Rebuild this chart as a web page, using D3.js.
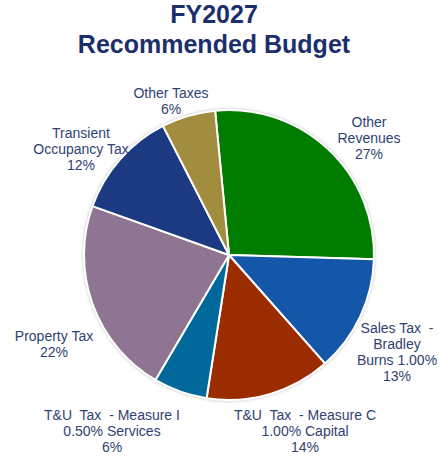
<!DOCTYPE html>
<html>
<head>
<meta charset="utf-8">
<script src="https://cdn.jsdelivr.net/npm/d3@7/dist/d3.min.js"></script>
<style>
  html, body { margin: 0; padding: 0; background: #fff; }
  svg { display: block; }
</style>
</head>
<body>
<svg id="chart" width="439" height="459"></svg>
<script>
// Revenue sources, clockwise from the top of the pie
const categories = [
  "Other Revenues",
  "Sales Tax - Bradley Burns 1.00%",
  "T&U Tax - Measure C 1.00% Capital",
  "T&U Tax - Measure I 0.50% Services",
  "Property Tax",
  "Transient Occupancy Tax",
  "Other Taxes"
];
const shares = [27, 13, 14, 6, 22, 12, 6];
const labelLines = [
  ["Other", "Revenues"],
  ["Sales Tax  -", "Bradley", "Burns 1.00%"],
  ["T&U  Tax  - Measure C", "1.00% Capital"],
  ["T&U  Tax  - Measure I", "0.50% Services"],
  ["Property Tax"],
  ["Transient", "Occupancy Tax"],
  ["Other Taxes"]
];
const titleLines = ["FY2027", "Recommended Budget"];

const colors = ["#007D00", "#1456A8", "#9A2C00", "#00689A", "#8E7591", "#1B3A82", "#A28C3D"];

// label anchor points (centre of first line) relative to the pie centre
const labelPos = [
  [140, -128],
  [168, 78],
  [76, 165],
  [-117, 165],
  [-175, 86],
  [-148, -117],
  [-58, -157]
];

const W = 439, H = 459;
const cx = 229, cy = 255, R = 145;
const startAngle = -5.5 * Math.PI / 180;

const svg = d3.select("#chart");

const defs = svg.append("defs");
defs.append("filter").attr("id", "halo")
  .attr("x", "-10%").attr("y", "-10%").attr("width", "120%").attr("height", "120%")
  .append("feGaussianBlur").attr("stdDeviation", 1.6);

// title
svg.append("g").selectAll("text")
  .data(titleLines)
  .join("text")
  .attr("x", 214)
  .attr("y", (d, i) => 23 + i * 30)
  .attr("text-anchor", "middle")
  .attr("font-family", "Liberation Sans, Arial, sans-serif")
  .attr("font-weight", "bold")
  .attr("font-size", 25)
  .attr("fill", "#1C2F6B")
  .text(d => d);

const g = svg.append("g").attr("transform", `translate(${cx},${cy})`);

// soft grey rim around the pie
g.append("circle")
  .attr("r", R + 1.2)
  .attr("fill", "#c8c8c8")
  .attr("filter", "url(#halo)");

const pie = d3.pie()
  .sort(null)
  .value(d => d)
  .startAngle(startAngle)
  .endAngle(startAngle + 2 * Math.PI);

const arc = d3.arc().innerRadius(0).outerRadius(R);

const arcs = pie(shares);

g.selectAll("path.slice")
  .data(arcs)
  .join("path")
  .attr("class", "slice")
  .attr("d", arc)
  .attr("fill", (d, i) => colors[i])
  .attr("stroke", "#ffffff")
  .attr("stroke-width", 2)
  .attr("stroke-linejoin", "round");

// data labels: category name lines followed by the percentage
const lineH = 16;
const labels = g.selectAll("g.label")
  .data(arcs)
  .join("g")
  .attr("class", "label")
  .attr("transform", (d, i) => `translate(${labelPos[i][0]},${labelPos[i][1]})`);

labels.each(function (d, i) {
  const lines = labelLines[i].concat([d.data + "%"]);
  d3.select(this).selectAll("text")
    .data(lines)
    .join("text")
    .attr("x", 0)
    .attr("y", (t, j) => j * lineH)
    .attr("text-anchor", "middle")
    .attr("font-family", "Liberation Sans, Arial, sans-serif")
    .attr("font-size", 14)
    .attr("fill", "#2F4274")
    .attr("xml:space", "preserve")
    .style("white-space", "pre")
    .text(t => t);
});
</script>
</body>
</html>
